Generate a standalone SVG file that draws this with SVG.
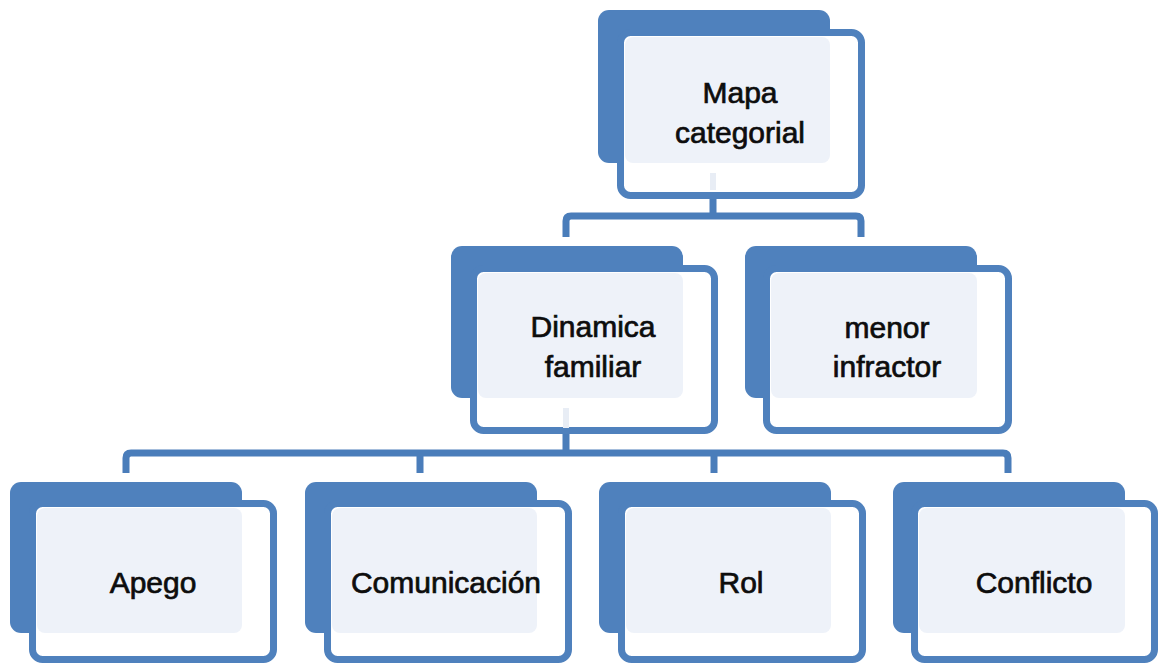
<svg xmlns="http://www.w3.org/2000/svg" width="1161" height="664" viewBox="0 0 1161 664">
<style>
.back{fill:#4f81bd}
.front{fill:#ffffff;stroke:#4f81bd;stroke-width:7}
.light{fill:#eef2f9}
.ghost{fill:#e8edf5}
.conn{fill:none;stroke:#4a7dba;stroke-width:7;stroke-linejoin:round}
text{font-family:"Liberation Sans",Arial,sans-serif;font-size:30px;fill:#0d0d0d;text-anchor:middle;stroke:#0d0d0d;stroke-width:0.7}
</style>
<rect width="1161" height="664" fill="#ffffff"/>
<g id="connectors">
<path class="conn" d="M713,198 V216 M566,237 V221 Q566,216 571,216 H856 Q861,216 861,221 V237"/>
<path class="conn" d="M566,434 V453 M126,473 V458 Q126,453 131,453 H1003 Q1008,453 1008,458 V473 M420,453 V473 M714,453 V473"/>
</g>
<g id="node-mapa">
<rect class="back" x="598" y="10" width="232" height="153" rx="11"/>
<rect class="front" x="620.5" y="32.5" width="241" height="163" rx="10"/>
<rect class="light" x="625" y="37" width="205" height="126" rx="8"/>
<rect class="ghost" x="710" y="173" width="6" height="17"/>
<text x="740" y="103">Mapa</text>
<text x="740" y="143">categorial</text>
</g>
<g id="node-dinamica">
<rect class="back" x="451" y="246" width="232" height="152" rx="11"/>
<rect class="front" x="473.5" y="268.5" width="241" height="162" rx="10"/>
<rect class="light" x="478" y="273" width="205" height="125" rx="8"/>
<rect class="ghost" x="563" y="408" width="6" height="20"/>
<text x="593" y="337">Dinamica</text>
<text x="593" y="377">familiar</text>
</g>
<g id="node-menor">
<rect class="back" x="745" y="246" width="232" height="152" rx="11"/>
<rect class="front" x="766.5" y="268.5" width="242" height="162" rx="10"/>
<rect class="light" x="771" y="273" width="206" height="125" rx="8"/>
<text x="887" y="338">menor</text>
<text x="887" y="377">infractor</text>
</g>
<g id="node-apego">
<rect class="back" x="10" y="482" width="232" height="151" rx="11"/>
<rect class="front" x="32.5" y="503.5" width="241" height="156" rx="10"/>
<rect class="light" x="37" y="508" width="205" height="125" rx="8"/>
<text x="153" y="593">Apego</text>
</g>
<g id="node-comunicacion">
<rect class="back" x="305" y="482" width="232" height="151" rx="11"/>
<rect class="front" x="327.5" y="503.5" width="241" height="156" rx="10"/>
<rect class="light" x="332" y="508" width="205" height="125" rx="8"/>
<text x="446" y="593">Comunicación</text>
</g>
<g id="node-rol">
<rect class="back" x="599" y="482" width="232" height="151" rx="11"/>
<rect class="front" x="621.5" y="503.5" width="241" height="156" rx="10"/>
<rect class="light" x="626" y="508" width="205" height="125" rx="8"/>
<text x="741" y="593">Rol</text>
</g>
<g id="node-conflicto">
<rect class="back" x="893" y="482" width="232" height="151" rx="11"/>
<rect class="front" x="914.5" y="503.5" width="240" height="156" rx="10"/>
<rect class="light" x="919" y="508" width="206" height="125" rx="8"/>
<text x="1034" y="593">Conflicto</text>
</g>
</svg>
